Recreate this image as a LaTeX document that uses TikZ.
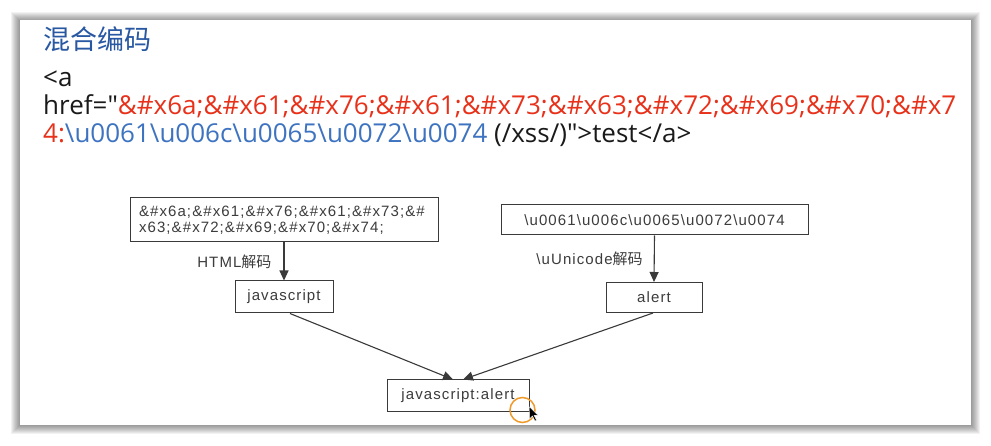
\documentclass[tikz,border=0pt]{standalone}
\usepackage{fontspec}
\setmainfont{Open Sans}
\newfontfamily\codefont{Open Sans}
\newfontfamily\cjk{Noto Sans CJK SC}
\newfontfamily\diagfont[LetterSpace=7.3]{Liberation Sans}
\usetikzlibrary{arrows.meta}
\definecolor{tred}{HTML}{E8311A}
\definecolor{tblue}{HTML}{3D73C0}
\definecolor{ttitle}{HTML}{2958A3}
\definecolor{tblack}{HTML}{1A1A1A}
\definecolor{dline}{HTML}{3A3A3A}
\definecolor{dtext}{HTML}{3C3C3C}
\definecolor{orangehl}{HTML}{F09A2A}
\newcommand\myBS{\textbackslash}
\begin{document}
\begin{tikzpicture}[x=1pt,y=-1pt,
  box/.style={draw=dline, line width=1pt, inner sep=0pt, text=dtext,
    font=\diagfont\fontsize{15pt}{16pt}\selectfont},
  arr/.style={draw=dline, line width=1.1pt, -{Triangle[length=10pt,width=9pt]}},
  lab/.style={anchor=east, inner sep=0pt, text=dtext,
    font=\diagfont\fontsize{15pt}{16pt}\selectfont},
  line/.style={anchor=base west, inner sep=0pt, text=tblack,
    font=\codefont\fontsize{26pt}{28pt}\selectfont}]
\useasboundingbox (0,0) rectangle (991,446);
\fill[white] (0,0) rectangle (991,446);
% shadow
\foreach \i in {1,...,9}
  \fill[black,opacity=0.05] (20-\i,20-\i+1) rectangle (971+\i,425+\i);
\fill[white] (20,20) rectangle (971,425);
% title and code
\node[anchor=base west, inner sep=0pt, text=ttitle,
  font=\cjk\fontsize{27pt}{30pt}\selectfont] (title) at (43,50) {混合编码};
\node[line] (l1) at (43,87) {<a};
\node[line] (l2) at (43,115) {href="\textcolor{tred}{\&\#x6a;\&\#x61;\&\#x76;\&\#x61;\&\#x73;\&\#x63;\&\#x72;\&\#x69;\&\#x70;\&\#x7}};
\node[line] (l3) at (43,143) {\textcolor{tred}{4:}\textcolor{tblue}{\myBS u0061\myBS u006c\myBS u0065\myBS u0072\myBS u0074} (/xss/)">test</a>};
% diagram
\node[box, minimum width=308pt, minimum height=44pt, text width=290pt, align=left]
  (b1) at (284,220) {\&\#x6a;\&\#x61;\&\#x76;\&\#x61;\&\#x73;\&\#\\x63;\&\#x72;\&\#x69;\&\#x70;\&\#x74;};
\node[box, minimum width=98pt, minimum height=32pt] (b2) at (284,297) {javascript};
\node[box, minimum width=307pt, minimum height=30pt] (b3) at (654.5,220)
  {\myBS u0061\myBS u006c\myBS u0065\myBS u0072\myBS u0074};
\node[box, minimum width=96pt, minimum height=30pt] (b4) at (654,297.5) {alert};
\node[box, minimum width=142pt, minimum height=31pt] (b5) at (458,395.5) {javascript:alert};
\draw[arr] (b1.south) -- (b2.north) node[midway, lab, xshift=-12pt] {HTML{\cjk 解码}};
\draw[arr] (b3.south) -- (b4.north) node[midway, lab, xshift=-11pt] {\myBS uUnicode{\cjk 解码}};
\draw[arr] ([xshift=6pt]b2.south) -- ([xshift=-5pt]b5.north);
\draw[arr] ([xshift=-1pt]b4.south) -- ([xshift=5pt]b5.north);
% highlight and cursor
\node[draw=orangehl, circle, minimum size=25pt, line width=1.5pt, inner sep=0pt] (hl) at (522.5,410) {};
\draw[fill=black, draw=white, line width=0.4pt] (529.5,407) -- ++(0,12) -- ++(3,-3)
  -- ++(2.5,5) -- ++(1.5,-0.8) -- ++(-2.5,-5) -- ++(4,0) -- cycle;
\end{tikzpicture}
\end{document}
